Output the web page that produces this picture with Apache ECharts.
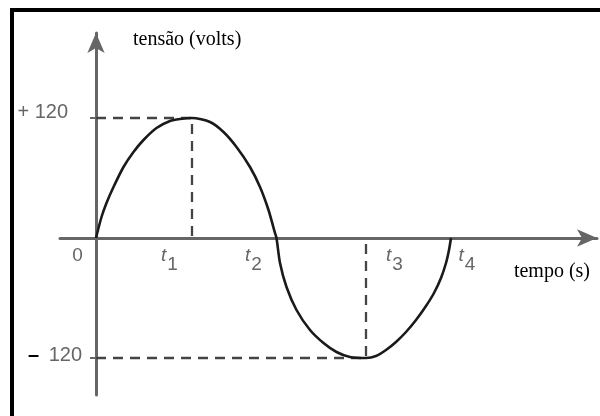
<!DOCTYPE html>
<html>
<head>
<meta charset="utf-8">
<script src="https://cdn.jsdelivr.net/npm/echarts@6/dist/echarts.min.js"></script>
<style>
  html, body { margin: 0; padding: 0; background: #fff; }
  #frame { position: absolute; left: 10px; top: 8px; width: 620px; height: 440px;
           border-left: 4px solid #000; border-top: 4px solid #000; }
  #main { position: absolute; left: 0; top: 0; width: 600px; height: 416px; }
</style>
</head>
<body>
<div id="frame"></div>
<div id="main"></div>
<script>
// tempo em unidades arbitrárias, tensão em volts
const curveTime = [0, 1.1, 2.1, 3.5, 5.5, 7.5, 9.5, 12.1, 14.8, 16.8, 19.2, 22.8, 25.5, 28.1, 30.8, 32.8, 34.5, 35.8, 36.1,
  36.8, 38.1, 40.1, 42.8, 45.5, 48.1, 50.8, 54, 56, 58, 60, 62, 64, 66, 67.6, 69, 70, 70.6, 71];
const curveVolts = [0, 21, 35, 51, 71, 86, 98, 110, 117, 119, 120, 116, 106, 91, 71, 51, 28, 5, 0,
  -25, -49, -72, -92, -105, -114, -119, -120, -118, -112, -104, -94, -82, -68, -55, -40, -25, -12, 0];
const peakVolts = 120;
const tMarks = [19.2, 36.1, 54, 71];          // t1..t4
const tNames = ['1', '2', '3', '4'];
const tLabelAt = [14.7, 31.5, 59.7, 74.2];    // onde os rótulos t1..t4 ficam
const zeroLabelAt = -3.7;
const yTicks = [-120, 120];

const curve = curveTime.map((t, i) => [t, curveVolts[i]]);
const labelAt = [zeroLabelAt].concat(tLabelAt);

const dashStyle = { color: '#444', width: 2.3, type: [10, 7] };
const dashed = (pts) => ({
  type: 'line', data: pts, showSymbol: false, silent: true,
  lineStyle: dashStyle, z: 1
});

const chart = echarts.init(document.getElementById('main'));
chart.setOption({
  animation: false,
  grid: { left: 60, right: 3, top: 33, bottom: 21, containLabel: false, outerBoundsMode: 'none' },
  xAxis: {
    type: 'value', min: -7.2, max: 100.2,
    position: 'bottom', offset: -157,
    name: 'tempo (s)', nameLocation: 'end', nameGap: -7,
    nameTextStyle: { fontFamily: 'Liberation Serif', fontSize: 20, color: '#000',
      align: 'right', verticalAlign: 'top', padding: [24, 0, 0, 0] },
    axisLine: { onZero: false, symbol: ['none', 'arrow'], symbolSize: [13, 20],
      lineStyle: { color: '#666', width: 3 } },
    axisTick: { show: false },
    splitLine: { show: false },
    axisLabel: {
      customValues: labelAt, margin: 8, color: '#666',
      fontFamily: 'Liberation Sans', fontSize: 19,
      formatter: (v) => {
        const i = tLabelAt.indexOf(v);
        return i < 0 ? '{z|0}' : '{t|t}{s|' + tNames[i] + '}';
      },
      rich: {
        z: { fontSize: 19, color: '#666', padding: [0, 0, 9, 0] },
        t: { fontSize: 19, fontStyle: 'italic', color: '#666', padding: [0, 0, 9, 0] },
        s: { fontSize: 19, color: '#666', padding: [9, 0, 0, 1] }
      }
    }
  },
  yAxis: {
    type: 'value', min: -157, max: 205,
    position: 'left', offset: -36,
    name: 'tensão (volts)', nameLocation: 'end', nameGap: -7,
    nameTextStyle: { fontFamily: 'Liberation Serif', fontSize: 20, color: '#000',
      align: 'left', verticalAlign: 'middle', padding: [0, 0, 0, 37] },
    axisLine: { onZero: false, symbol: ['none', 'arrow'], symbolSize: [13, 20],
      lineStyle: { color: '#666', width: 3 } },
    axisTick: { customValues: yTicks, length: 6, lineStyle: { color: '#666', width: 2 } },
    splitLine: { show: false },
    axisLabel: {
      customValues: yTicks, margin: 14,
      fontFamily: 'Liberation Sans', fontSize: 20, color: '#666',
      formatter: (v) => v > 0 ? '{p|+} {pn|' + v + '}' : '{m|–} {mn|' + (-v) + '}',
      rich: {
        p: { fontSize: 20, color: '#666', padding: [0, 0, 12, 0] },
        pn: { fontSize: 20, color: '#666', padding: [0, 14, 12, 0] },
        m: { fontSize: 20, color: '#000', fontWeight: 'bold', padding: [0, 4, 6, 0] },
        mn: { fontSize: 20, color: '#666', padding: [0, 0, 6, 0] }
      }
    }
  },
  series: [
    dashed([[0, peakVolts], [tMarks[0], peakVolts], [tMarks[0], 0]]),
    dashed([[0, -peakVolts], [tMarks[2], -peakVolts], [tMarks[2], 0]]),
    {
      type: 'line', data: curve, smooth: 0.25, showSymbol: false, z: 3,
      lineStyle: { color: '#1a1a1a', width: 2.6 }
    }
  ]
});
</script>
</body>
</html>
